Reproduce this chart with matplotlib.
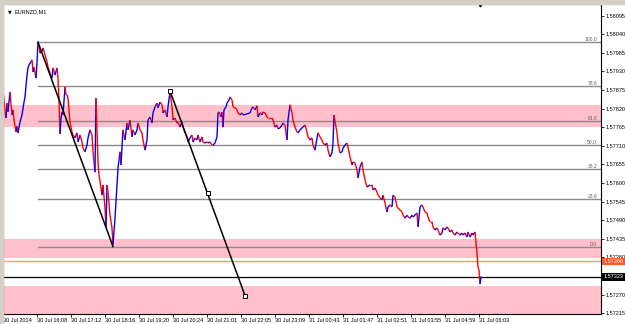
import matplotlib
matplotlib.use("Agg")
import matplotlib.pyplot as plt
from matplotlib.collections import LineCollection
from matplotlib.patches import Rectangle
import matplotlib.transforms as mtransforms

plt.rcParams['font.family'] = ['Liberation Sans', 'DejaVu Sans']

symbol = "EURNZD,M1"

# bar offsets (time axis, 1 unit per bar column) and closing prices
bar = [0, 1, 2, 3, 4, 5, 7, 8, 9, 10, 11, 13, 14, 15, 17, 19, 21, 22, 24, 25,
       26, 28, 29, 30, 31, 33, 34, 35, 37, 39, 40, 42, 44, 45, 47, 49, 50, 52, 54, 55,
       56, 57, 58, 59, 60, 62, 63, 64, 65, 67, 69, 70, 72, 74, 75, 77, 79, 80, 82, 84,
       85, 87, 89, 90, 92, 93, 94, 95, 96, 98, 99, 100, 102, 103, 104, 105, 107, 109, 110, 112,
       114, 115, 117, 118, 119, 120, 122, 124, 125, 127, 129, 130, 132, 134, 135, 137, 139, 140, 142, 144,
       145, 147, 149, 150, 152, 154, 155, 157, 159, 160, 162, 164, 165, 167, 169, 170, 172, 174, 175, 177,
       179, 180, 182, 184, 185, 187, 189, 190, 192, 194, 195, 197, 199, 200, 202, 204, 205, 207, 209, 210,
       212, 214, 215, 216, 218, 219, 220, 221, 223, 224, 226, 227, 229, 230, 232, 234, 235, 237, 239, 240,
       244, 247, 249, 250, 252, 254, 255, 257, 259, 260, 262, 264, 265, 267, 269, 270, 272, 274, 275, 277,
       279, 280, 282, 284, 285, 287, 289, 290, 292, 294, 295, 297, 299, 300, 302, 304, 305, 307, 309, 310,
       312, 314, 315, 317, 319, 320, 322, 324, 325, 327, 329, 330, 331, 333, 334, 335, 337, 339, 340, 342,
       344, 345, 347, 349, 350, 352, 354, 355, 357, 359, 360, 362, 364, 367, 369, 370, 372, 374, 375, 377,
       379, 380, 382, 384, 385, 387, 389, 390, 392, 394, 395, 397, 399, 400, 402, 404, 405, 407, 409, 410,
       412, 414, 415, 417, 419, 420, 422, 424, 425, 427, 429, 430, 432, 434, 435, 437, 439, 440, 442, 444,
       445, 447, 449, 450, 452, 454, 455, 457, 459, 460, 462, 464, 465, 467, 469, 470, 472, 473, 474, 475,
       476, 477, 478]
close = [1.57875, 1.57845, 1.57810, 1.57792, 1.57836, 1.57810, 1.57869, 1.57831, 1.57801, 1.57816,
         1.57786, 1.57751, 1.57768, 1.57748, 1.57780, 1.57801, 1.57839, 1.57854, 1.57919, 1.57940,
         1.57949, 1.57958, 1.57964, 1.57928, 1.57943, 1.57910, 1.57955, 1.58017, 1.57984, 1.57990,
         1.57999, 1.57978, 1.57958, 1.57943, 1.57925, 1.57910, 1.57940, 1.57919, 1.57940, 1.57910,
         1.57845, 1.57745, 1.57792, 1.57810, 1.57801, 1.57884, 1.57860, 1.57860, 1.57851, 1.57780,
         1.57751, 1.57742, 1.57733, 1.57748, 1.57721, 1.57742, 1.57721, 1.57703, 1.57692, 1.57712,
         1.57733, 1.57757, 1.57742, 1.57692, 1.57632, 1.57851, 1.57751, 1.57662, 1.57624, 1.57585,
         1.57564, 1.57594, 1.57526, 1.57467, 1.57594, 1.57573, 1.57505, 1.57467, 1.57417, 1.57496,
         1.57594, 1.57644, 1.57692, 1.57653, 1.57706, 1.57757, 1.57727, 1.57777, 1.57757, 1.57786,
         1.57736, 1.57757, 1.57742, 1.57757, 1.57777, 1.57757, 1.57748, 1.57727, 1.57697, 1.57727,
         1.57786, 1.57795, 1.57777, 1.57807, 1.57825, 1.57836, 1.57822, 1.57839, 1.57831, 1.57807,
         1.57816, 1.57795, 1.57825, 1.57869, 1.57825, 1.57786, 1.57792, 1.57777, 1.57780, 1.57765,
         1.57780, 1.57765, 1.57748, 1.57736, 1.57721, 1.57733, 1.57742, 1.57721, 1.57733, 1.57727,
         1.57742, 1.57721, 1.57736, 1.57721, 1.57718, 1.57721, 1.57718, 1.57721, 1.57712, 1.57712,
         1.57718, 1.57736, 1.57807, 1.57810, 1.57795, 1.57810, 1.57765, 1.57816, 1.57825, 1.57836,
         1.57845, 1.57854, 1.57845, 1.57825, 1.57822, 1.57816, 1.57807, 1.57801, 1.57807, 1.57801,
         1.57804, 1.57807, 1.57822, 1.57825, 1.57816, 1.57828, 1.57795, 1.57807, 1.57801, 1.57810,
         1.57807, 1.57795, 1.57792, 1.57792, 1.57792, 1.57786, 1.57765, 1.57771, 1.57760, 1.57763,
         1.57771, 1.57777, 1.57771, 1.57727, 1.57786, 1.57831, 1.57807, 1.57786, 1.57765, 1.57751,
         1.57748, 1.57757, 1.57763, 1.57765, 1.57771, 1.57751, 1.57736, 1.57727, 1.57733, 1.57712,
         1.57697, 1.57733, 1.57748, 1.57736, 1.57727, 1.57718, 1.57712, 1.57718, 1.57697, 1.57677,
         1.57689, 1.57718, 1.57801, 1.57765, 1.57748, 1.57718, 1.57689, 1.57692, 1.57703, 1.57712,
         1.57718, 1.57706, 1.57677, 1.57653, 1.57662, 1.57659, 1.57638, 1.57615, 1.57647, 1.57662,
         1.57638, 1.57609, 1.57588, 1.57594, 1.57594, 1.57579, 1.57585, 1.57573, 1.57564, 1.57556,
         1.57550, 1.57564, 1.57541, 1.57514, 1.57529, 1.57535, 1.57529, 1.57564, 1.57558, 1.57529,
         1.57526, 1.57520, 1.57514, 1.57505, 1.57496, 1.57505, 1.57499, 1.57496, 1.57505, 1.57499,
         1.57505, 1.57511, 1.57470, 1.57529, 1.57535, 1.57529, 1.57514, 1.57511, 1.57499, 1.57485,
         1.57485, 1.57470, 1.57461, 1.57467, 1.57461, 1.57446, 1.57452, 1.57467, 1.57461, 1.57470,
         1.57467, 1.57455, 1.57461, 1.57452, 1.57446, 1.57455, 1.57452, 1.57446, 1.57452, 1.57446,
         1.57452, 1.57440, 1.57455, 1.57440, 1.57452, 1.57446, 1.57455, 1.57422, 1.57393, 1.57351,
         1.57343, 1.57301, 1.57323]

# Fibonacci retracement
fib_high = 1.58016
fib_low = 1.57410
fib_start = 35
fib_levels = [0.0, 23.6, 38.2, 50.0, 61.8, 78.6, 100.0]

# pink zones (price bottom, price top)
zone_bottoms = [1.57766, 1.57377, 1.57150]
zone_tops = [1.57831, 1.57433, 1.57295]

orange_level = 1.57368
bid_level = 1.57323

trend1_bars = [35, 110]
trend1_prices = [1.58016, 1.57412]
trend2_bars = [167, 204.5, 242]
trend2_prices = [1.57872, 1.57569, 1.57267]
shift_bar = 477

xtick_pos = [0, 34, 68, 102, 136, 170, 204, 238, 272, 306, 340, 374, 408, 442, 476]
xtick_labels = ["30 Jul 2014", "30 Jul 16:08", "30 Jul 17:12", "30 Jul 18:16", "30 Jul 19:20",
                "30 Jul 20:24", "30 Jul 21:01", "30 Jul 22:05", "30 Jul 23:09", "31 Jul 00:43",
                "31 Jul 01:47", "31 Jul 02:51", "31 Jul 03:55", "31 Jul 04:59", "31 Jul 06:03"]
ytick_vals = [1.57215, 1.57270, 1.57325, 1.57380, 1.57435, 1.57490, 1.57545, 1.57600, 1.57655,
              1.57710, 1.57765, 1.57820, 1.57875, 1.57930, 1.57985, 1.58040, 1.58095]

x_max = 598
y_min, y_max = 1.572125, 1.58129

W, H = 625, 324
fig = plt.figure(figsize=(W / 100, H / 100), dpi=100, facecolor="white")
ax = fig.add_axes([3 / W, 10 / H, 598 / W, 310 / H])
ax.set_xlim(0, x_max)
ax.set_ylim(y_min, y_max)
ax.set_facecolor("white")

# window border strips
fig.patches.append(Rectangle((0, 0), 3 / W, 1, transform=fig.transFigure, color="#d4d0c8", zorder=0))
fig.patches.append(Rectangle((0, 320 / H), 1, 4 / H, transform=fig.transFigure, color="#d4d0c8", zorder=0))

# zones
for b, t in zip(zone_bottoms, zone_tops):
    ax.axhspan(b, t, color="#ffc0cb", lw=0, zorder=1)

# fib levels
rng = fib_high - fib_low
for lv in fib_levels:
    p = fib_low + rng * lv / 100.0
    ax.plot([fib_start, x_max], [p, p], color="#8c8c8c", lw=1.0, zorder=2)
    ax.text(x_max - 4, p, f"{lv:.1f}", fontsize=3.6, color="#606060", ha="right", va="bottom", zorder=6)

# orange line and bid line
ax.axhline(orange_level, color="#ff9a66", lw=1.0, zorder=2)
ax.axhline(bid_level, color="#000000", lw=0.9, zorder=2)

# price series
pts = list(zip(bar, close))
segs, cols = [], []
prev = "#0000ff"
for (x0, y0), (x1, y1) in zip(pts[:-1], pts[1:]):
    c = "#0000ff" if y1 > y0 else ("#ff0000" if y1 < y0 else prev)
    segs.append([(x0, y0), (x1, y1)])
    cols.append(c)
    prev = c
lc = LineCollection(segs, colors=cols, linewidths=1.0, zorder=4)
ax.add_collection(lc)

# trend lines
ax.plot(trend1_bars, trend1_prices, color="black", lw=1.1, zorder=5)
ax.plot(trend2_bars, trend2_prices, color="black", lw=1.1, zorder=5,
        marker="s", markersize=2.6, markerfacecolor="white", markeredgecolor="black", markeredgewidth=0.7)

# chart shift marker
ax.plot([shift_bar], [y_max], marker="v", color="black", markersize=3.5, clip_on=False, zorder=7)

# title
ax.text(0.008, 0.982, "▼", transform=ax.transAxes, fontsize=3.5, color="black", ha="left", va="top",
        family="DejaVu Sans")
ax.text(0.02, 0.983, symbol, transform=ax.transAxes, fontsize=4, color="black", ha="left", va="top")

# axes styling
for s in ax.spines.values():
    s.set_color("#000000")
    s.set_linewidth(0.8)
ax.yaxis.tick_right()
ax.set_yticks(ytick_vals)
# the tick label hidden behind the bid price box is left blank
ax.set_yticklabels(["" if abs(v - bid_level) < 0.0001 else f"{v:.5f}" for v in ytick_vals])
ax.tick_params(axis="y", direction="out", length=2, width=0.6, pad=1.5, labelsize=4, colors="black")
ax.set_xticks(xtick_pos)
ax.set_xticklabels(xtick_labels, ha="left")
ax.tick_params(axis="x", direction="out", length=2, width=0.6, pad=1, labelsize=4, colors="black")

# price labels on the right
tr = mtransforms.blended_transform_factory(ax.transAxes, ax.transData)
ax.text(1.004, orange_level, f"{orange_level:.5f}", transform=tr, fontsize=4, color="white",
        ha="left", va="center", zorder=10, clip_on=False,
        bbox=dict(boxstyle="square,pad=0.25", fc="#ff5a1e", ec="none"))
ax.text(1.004, bid_level, f"{bid_level:.5f}", transform=tr, fontsize=4, color="white",
        ha="left", va="center", zorder=10, clip_on=False,
        bbox=dict(boxstyle="square,pad=0.25", fc="black", ec="none"))

fig.savefig("out.png", dpi=100, facecolor="white")
